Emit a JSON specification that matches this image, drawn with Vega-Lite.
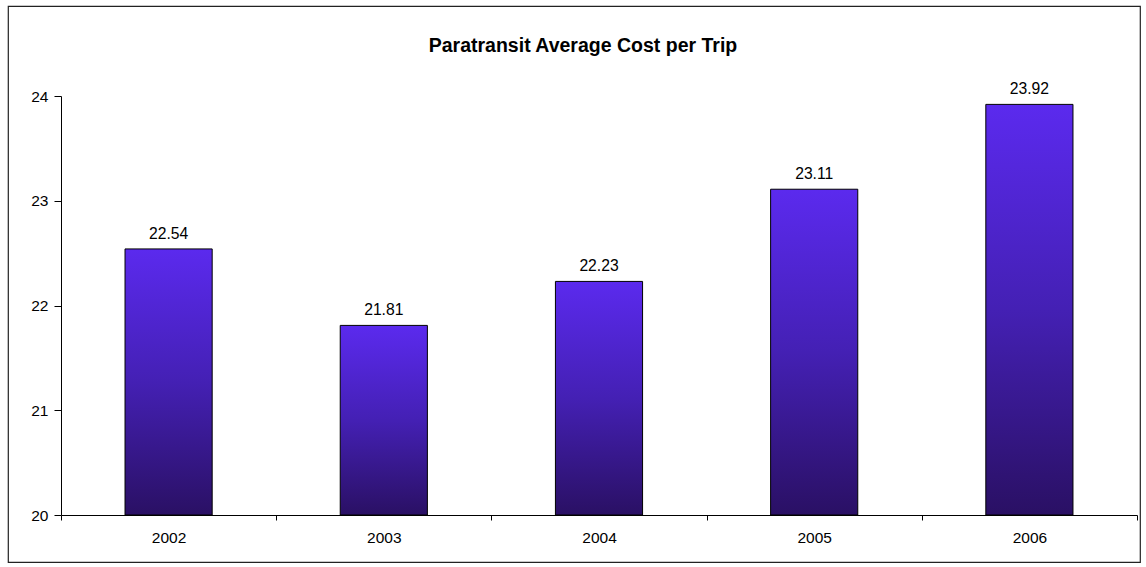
{
  "$schema": "https://vega.github.io/schema/vega-lite/v6.json",
  "autosize": "none",
  "width": 1132,
  "height": 556,
  "padding": {"left": 8, "top": 6, "right": 6, "bottom": 5},
  "background": "white",
  "config": {
    "view": {"stroke": "#222", "strokeWidth": 1.2},
    "font": "Liberation Sans",
    "axis": {"grid": false, "domainColor": "black", "tickColor": "black", "labelColor": "black", "labelFont": "Liberation Sans", "labelFontSize": 15.5, "title": null}
  },
  "title": {"text": "Paratransit Average Cost per Trip", "font": "Liberation Sans", "fontSize": 19.5, "fontWeight": "bold", "color": "black", "anchor": "middle", "baseline": "alphabetic", "offset": -65, "dx": 9},
  "data": {"values": [
    {"year": "2002", "cost": 22.54},
    {"year": "2003", "cost": 21.81},
    {"year": "2004", "cost": 22.23},
    {"year": "2005", "cost": 23.11},
    {"year": "2006", "cost": 23.92}
  ]},
  "encoding": {
    "x": {"field": "year", "type": "nominal", "sort": null,
      "scale": {"range": [53, 1129], "paddingInner": 0, "paddingOuter": 0},
      "axis": {"labelAngle": 0, "offset": -47, "tickBand": "extent", "tickSize": 5, "labelPadding": 10, "domainWidth": 1}},
    "y": {"field": "cost", "type": "quantitative",
      "scale": {"domain": [20, 24], "zero": false, "range": [509, 90]},
      "axis": {"values": [20, 21, 22, 23, 24], "offset": -53, "tickSize": 7, "labelPadding": 6}}
  },
  "layer": [
    {"mark": {"type": "bar", "stroke": "black", "strokeWidth": 1, "width": {"band": 0.405},
      "color": {"gradient": "linear", "x1": 0, "y1": 0, "x2": 0, "y2": 1,
        "stops": [{"offset": 0, "color": "#5b2aee"}, {"offset": 0.5, "color": "#4420b4"}, {"offset": 1, "color": "#2a1064"}]}},
     "encoding": {"y2": {"datum": 20}}},
    {"mark": {"type": "text", "baseline": "alphabetic", "dy": -10, "fontSize": 15.7, "font": "Liberation Sans", "color": "black"},
     "encoding": {"text": {"field": "cost", "type": "quantitative", "format": ".2f"}}}
  ]
}
